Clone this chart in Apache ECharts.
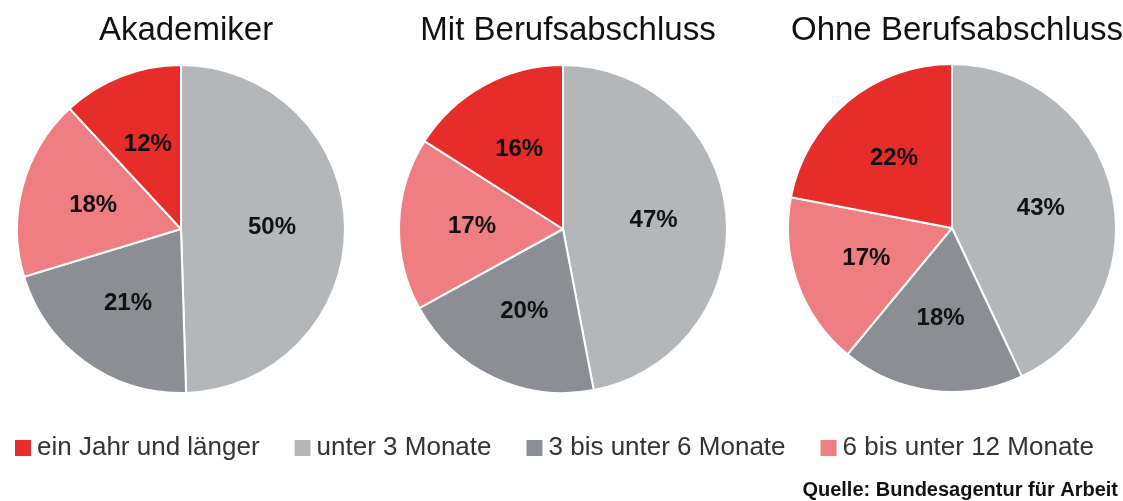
<!DOCTYPE html>
<html>
<head>
<meta charset="utf-8">
<title>Dauer der Arbeitslosigkeit</title>
<script src="https://cdn.jsdelivr.net/npm/echarts@6/dist/echarts.min.js"></script>
<style>
  html, body { margin: 0; padding: 0; background: #fff; }
  #chart { width: 1123px; height: 501px; }
</style>
</head>
<body>
<div id="chart"></div>
<script>
// slices in drawing order (clockwise from 12 o'clock)
const categories = ['unter 3 Monate', '3 bis unter 6 Monate', '6 bis unter 12 Monate', 'ein Jahr und länger']
const legendOrder = ['ein Jahr und länger', 'unter 3 Monate', '3 bis unter 6 Monate', '6 bis unter 12 Monate']
const colors = ['#b4b7ba', '#8b8e92', '#ef7e82', '#e62d29']

const groups = ['Akademiker', 'Mit Berufsabschluss', 'Ohne Berufsabschluss']
const akademiker = [50, 21, 18, 12]
const mitAbschluss = [47, 20, 17, 16]
const ohneAbschluss = [43, 18, 17, 22]
const values = [akademiker, mitAbschluss, ohneAbschluss]

const centers = [[181, 229], [563, 229], [952, 228]]
const R = 164

const chart = echarts.init(document.getElementById('chart'))

const series = []
values.forEach((vals, i) => {
  const data = categories.map((name, k) => ({ name, value: vals[k] }))
  // coloured slices
  series.push({
    type: 'pie',
    center: centers[i],
    radius: R,
    startAngle: 90,
    clockwise: true,
    avoidLabelOverlap: false,
    silent: true,
    label: { show: false },
    labelLine: { show: false },
    itemStyle: {
      color: (p) => colors[p.dataIndex],
      borderColor: '#ffffff',
      borderWidth: 2,
    },
    data,
  })
  // transparent copy, only there to put the % labels a little further out
  series.push({
    type: 'pie',
    center: centers[i],
    radius: 176,
    startAngle: 90,
    clockwise: true,
    avoidLabelOverlap: false,
    silent: true,
    legendHoverLink: false,
    label: {
      show: true,
      position: 'inside',
      formatter: '{c}%',
      fontFamily: 'Liberation Sans, Arial, sans-serif',
      fontWeight: 'bold',
      fontSize: 24,
      color: '#111',
    },
    labelLine: { show: false },
    itemStyle: { color: 'rgba(0,0,0,0)', borderWidth: 0 },
    emphasis: { disabled: true },
    data: data.map(d => ({ name: d.name + ' ', value: d.value })),
  })
})

const option = {
  backgroundColor: '#ffffff',
  animation: false,
  color: colors,
  title: groups.map((g, i) => ({
    text: g,
    left: centers[i][0],
    top: 9,
    textAlign: 'center',
    textStyle: {
      fontFamily: 'Liberation Sans, Arial, sans-serif',
      fontWeight: 'normal',
      fontSize: 33,
      color: '#111',
    },
  })).concat([{
    text: 'Quelle: Bundesagentur für Arbeit',
    right: 0,
    top: 475,
    textStyle: {
      fontFamily: 'Liberation Sans, Arial, sans-serif',
      fontWeight: 'bold',
      fontSize: 20,
      color: '#111',
    },
  }]),
  legend: {
    data: legendOrder,
    left: 8,
    top: 430,
    icon: 'rect',
    itemWidth: 18,
    itemHeight: 18,
    itemGap: 33,
    selectedMode: false,
    textStyle: {
      fontFamily: 'Liberation Sans, Arial, sans-serif',
      fontSize: 26,
      color: '#333',
    },
  },
  series,
}

chart.setOption(option)
</script>
</body>
</html>
